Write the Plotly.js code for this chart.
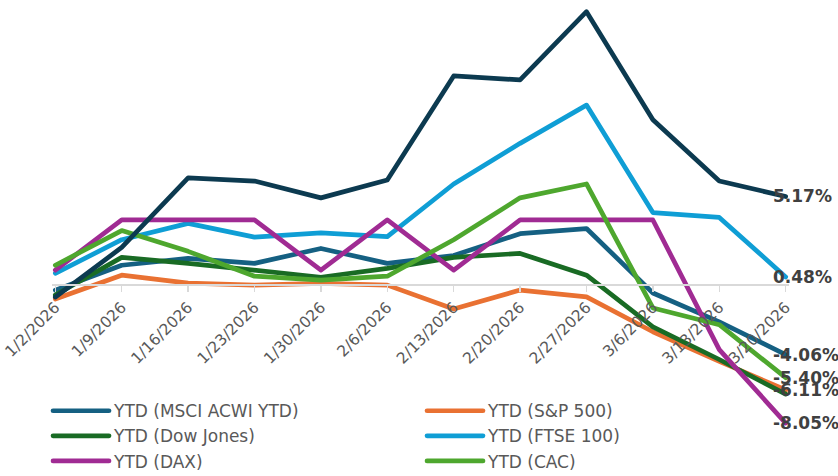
<!DOCTYPE html>
<html>
<head>
<meta charset="utf-8">
<script src="https://cdn.plot.ly/plotly-3.0.1.min.js"></script>
<style>
html,body{margin:0;padding:0;background:#fff;}
#chart{width:838px;height:476px;}
#chart path.js-line, #chart .legendlines path { stroke-linejoin: round; stroke-linecap: round; }
</style>
</head>
<body>
<div id="chart"></div>
<script>
// Categories (weekly dates)
var dates = ["1/2/2026","1/9/2026","1/16/2026","1/23/2026","1/30/2026","2/6/2026","2/13/2026","2/20/2026","2/27/2026","3/6/2026","3/13/2026","3/20/2026"];

// Series values (YTD %)
var msciAcwi = [-0.29, 1.16, 1.56, 1.27, 2.14, 1.27, 1.73, 3.00, 3.30, -0.46, -2.14, -4.06];
var sp500    = [-0.81, 0.58, 0.12, 0.00, 0.10, 0.00, -1.39, -0.29, -0.69, -2.72, -4.45, -6.11];
var dowJones = [-0.58, 1.62, 1.27, 0.87, 0.46, 0.98, 1.62, 1.85, 0.58, -2.43, -4.34, -6.36];
var ftse100  = [0.69, 2.65, 3.60, 2.80, 3.05, 2.83, 5.90, 8.27, 10.50, 4.23, 3.95, 0.48];
var dax      = [0.87, 3.80, 3.80, 3.80, 0.87, 3.80, 0.87, 3.80, 3.80, 3.80, -3.76, -8.05];
var cac      = [1.16, 3.18, 1.97, 0.52, 0.29, 0.52, 2.65, 5.09, 5.90, -1.33, -2.31, -5.40];
var series7  = [-0.70, 2.20, 6.25, 6.07, 5.09, 6.13, 12.20, 11.97, 15.95, 9.65, 6.07, 5.17];

var names = ["YTD (MSCI ACWI YTD)","YTD (S&P 500)","YTD (Dow Jones)","YTD (FTSE 100)","YTD (DAX)","YTD (CAC)","YTD (Series 7)"];
var values = [msciAcwi, sp500, dowJones, ftse100, dax, cac, series7];
var colors = ["#156082","#E97132","#196B24","#0F9ED5","#A02B93","#4EA72E","#0C3A50"];
var legendOf = ["legend","legend2","legend","legend2","legend","legend2",null];
var endLabel = [true,true,false,true,true,true,true];

var traces = [];
for (var i = 0; i < values.length; i++) {
  var t = {
    type: "scatter", mode: "lines", x: dates, y: values[i], name: names[i],
    line: {color: colors[i], width: 4.7},
    hoverinfo: "skip"
  };
  if (legendOf[i]) { t.legend = legendOf[i]; t.showlegend = true; } else { t.showlegend = false; }
  traces.push(t);
}

var annotations = [];
for (var j = 0; j < values.length; j++) {
  if (!endLabel[j]) continue;
  var v = values[j][values[j].length - 1];
  annotations.push({
    x: dates[dates.length - 1], y: v, xref: "x", yref: "y",
    text: v.toFixed(2) + "%", showarrow: false,
    xanchor: "left", yanchor: "middle", xshift: -15,
    font: {family: "DejaVu Sans", size: 17, color: "#404040", weight: "bold"}
  });
}

var yRange = [-8.51, 16.34];
var zeroPos = (0 - yRange[0]) / (yRange[1] - yRange[0]);

var legendBase = {
  orientation: "v", xref: "container", yref: "container",
  xanchor: "left", yanchor: "top", y: 0.174,
  itemwidth: 56, tracegroupgap: 0,
  font: {family: "DejaVu Sans", size: 17, color: "#595959"},
  bgcolor: "rgba(0,0,0,0)"
};
var legend1 = Object.assign({}, legendBase, {x: 0.0573});
var legend2 = Object.assign({}, legendBase, {x: 0.5036});

var layout = {
  width: 838, height: 476,
  margin: {l: 52, r: 49, t: 5, b: 45, autoexpand: false},
  paper_bgcolor: "#fff", plot_bgcolor: "rgba(0,0,0,0)",
  font: {family: "DejaVu Sans", color: "#595959"},
  xaxis: {
    type: "category", range: [-0.05, 11.05],
    anchor: "free", position: zeroPos, automargin: false,
    showgrid: false, zeroline: false,
    showline: true, linecolor: "#D9D9D9", linewidth: 2,
    ticks: "outside", ticklen: 6, tickwidth: 1.5, tickcolor: "#D9D9D9",
    tickangle: -45, tickfont: {family: "DejaVu Sans", size: 15.5, color: "#595959"},
    fixedrange: true
  },
  yaxis: {
    range: yRange, visible: false, showgrid: false, zeroline: false, fixedrange: true, automargin: false
  },
  showlegend: true,
  legend: legend1,
  legend2: legend2,
  annotations: annotations
};

Plotly.newPlot("chart", traces, layout, {displayModeBar: false, staticPlot: true});
</script>
</body>
</html>
